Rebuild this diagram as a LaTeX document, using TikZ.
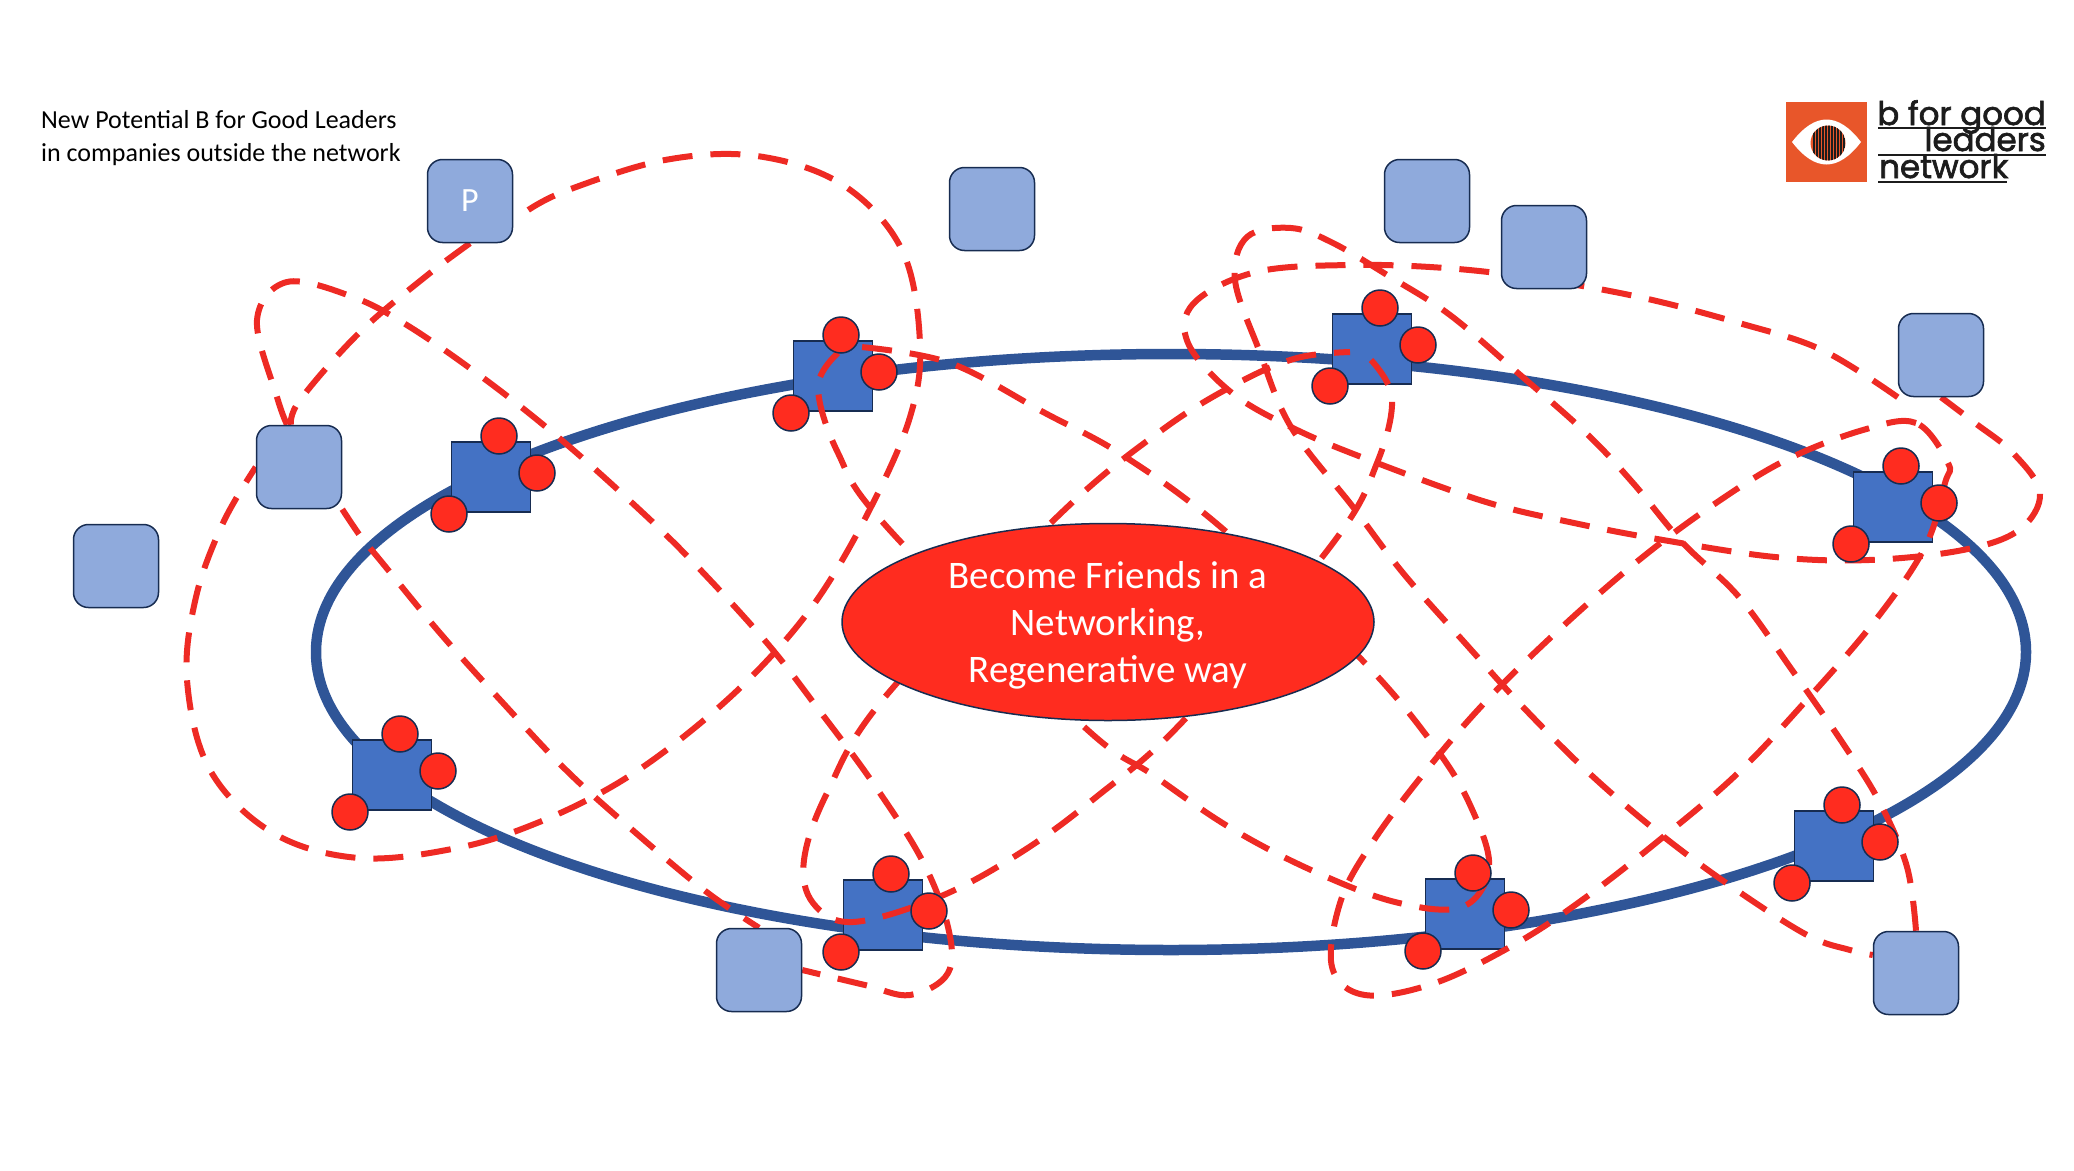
\documentclass[tikz,border=0pt]{standalone}
\usepackage{xcolor}
\usepackage{fontspec}
\usepackage{tikz}
\usetikzlibrary{positioning,calc,shapes.geometric,backgrounds}
\setmainfont{Carlito}
\newfontfamily\logofont[FakeBold=2]{Poppins}
\definecolor{trackblue}{HTML}{2F5597}
\definecolor{hubblue}{HTML}{4472C4}
\definecolor{peerblue}{HTML}{8FAADC}
\definecolor{edgenavy}{HTML}{172C51}
\definecolor{linkred}{HTML}{EE2A24}
\definecolor{dotred}{HTML}{FF2C1F}
\definecolor{logoorange}{HTML}{E8562A}
\definecolor{logoink}{HTML}{1C1C1C}
\tikzset{
  track/.style={ellipse, draw=trackblue, line width=10.5pt, minimum width=1710pt, minimum height=596pt, inner sep=0pt},
  hub/.style={rectangle, draw=edgenavy, fill=hubblue, line width=1.5pt, minimum width=79pt, minimum height=70pt, inner sep=0pt},
  dot/.style={circle, draw=edgenavy, fill=dotred, line width=1.5pt, minimum size=36pt, inner sep=0pt},
  peer/.style={rectangle, rounded corners=15pt, draw=edgenavy, fill=peerblue, line width=1.5pt, minimum width=85pt, minimum height=83pt, inner sep=0pt, text=white, font=\fontsize{34}{38}\selectfont},
  focus/.style={ellipse, draw=edgenavy, fill=dotred, line width=1.5pt, minimum width=532pt, minimum height=197pt, inner sep=0pt},
  focustext/.style={inner sep=0pt, text=white, align=center, font=\fontsize{39}{47}\selectfont},
  link/.style={linkred, line width=6pt, dash pattern=on 30pt off 18pt},
  logotext/.style={inner sep=0pt, text=logoink, font=\logofont\fontsize{32.5}{32}\selectfont}
}

\begin{document}
\begin{tikzpicture}[x=1pt,y=-1pt]
  \useasboundingbox (0,0) rectangle (2074,1170);
  \begin{scope}[on background layer]
    \node[track] (ring) at (1171,652) {};
    \foreach \n/\x/\y in {a/491/477,b/833/376,c/1372/349,d/1893/507,e/392/775,f/883/915,g/1465/914,h/1834/846}
      \node[hub] (hub\n) at (\x,\y) {};
  \end{scope}
  \foreach \n in {a,b,c,d,e,f,g,h} {
    \node[dot] (dot\n1) at ([shift={(8,-41)}]hub\n.center) {};
    \node[dot] (dot\n2) at ([shift={(46,-4)}]hub\n.center) {};
    \node[dot] (dot\n3) at ([shift={(-42,37)}]hub\n.center) {};
  }
  \node[peer] (peerp) at (470,201) {P};
  \foreach \n/\x/\y in {q/992/209,r/1427/201,s/1544/247,t/1941/355,u/299/467,v/116/566,w/759/970,z/1916/973}
    \node[peer] (peer\n) at (\x,\y) {};
  \node[focus] (goal) at (1108,622) {};
  \node[focustext] (goaltext) at (1108,625) {Become Friends in a\\Networking,\\Regenerative way};
  \node[anchor=west, align=left, inner sep=0pt, font=\fontsize{26}{33}\selectfont] (note) at (41,138) {New Potential B for Good Leaders\\in companies outside the network};

  % dashed links
  \begin{scope}[on background layer]
    \draw[link] plot[smooth, tension=0.6] coordinates {([shift={(15,9)}]peerp.east) (568,190) (665,160) (757,156) (843,185) (902,250) (920,343) (910,417) (871,507) (819,597) (761,667) (692,730) (618,783) (537,823) (457,848) (359,858) (273,833) (210,770) (187,680) (196,597) (223,523) (peeru.west)};
    \draw[link] plot[smooth, tension=0.6] coordinates {([shift={(-12,0)}]peeru.north) (277,397) (257,320) (287,282) (353,297) (410,327) (486,380) (558,437) (629,500) (691,560) (767,643) (819,710) (873,783) (922,860) (948,927) (948,973) (910,995) (865,985) (peerw.east)};
    \draw[link] plot[smooth, tension=0.6] coordinates {(peerp.south) (425,277) (359,333) (300,400) ([shift={(-8,0)}]peeru.north)};
    \draw[link] plot[smooth, tension=0.6] coordinates {(peeru.south east) (361,537) (380,560) (440,633) (503,703) (566,770) (629,827) (704,890) (peerw.north)};
    \draw[link] plot[smooth, tension=0.6] coordinates {(838,353) (818,387) (838,453) (887,527) (1080,723) (1153,775) (1229,827) (1311,870) (1395,902) (1462,907) (1489,867) (1471,807) (1435,747) (1362,660) (1223,529) (1124,456) (1045,413) (950,363) (861,347)};
    \draw[link] plot[smooth, tension=0.6] coordinates {(1371,360) (1392,398) (1377,463) (1333,543) (1186,718) (1095,798) (1020,853) (939,897) (853,922) (813,903) (804,860) (827,793) (885,697) (1058,516) (1162,430) (1238,383) (1297,358) (1350,352)};
    \draw[link] plot[smooth, tension=0.6] coordinates {(peert.south west) (1822,350) (1739,323) (1639,297) (1533,278) (1445,268) (1350,265) (1256,272) (1194,303) (1188,343) (1232,393) (1297,430) (1377,463) (1486,502) (1574,523) (1663,540) (1775,557) (1869,560) (1963,550) (2019,530) (2040,493) (2013,453) (1975,423) (peert.south)};
    \draw[link] plot[smooth, tension=0.6] coordinates {(peerz.north) (1907,867) (1880,803) (1844,745) (1792,670) (1739,597) (1683,543) (1633,483) (1586,433) (1518,373) (1450,315) (1392,278) (1333,243) (1291,228) (1247,237) (1235,280) (1259,350) (1291,427) (1353,507) (1403,573) (1465,643) (1523,707) (1589,773) (1659,833) (1732,887) (1807,935) (1850,950) ([shift={(0,-18)}]peerz.west)};
    \draw[link] plot[smooth cycle, tension=0.6] coordinates {(1948,463) (1916,423) (1863,430) (1786,460) (1713,505) (1639,560) (1562,627) (1489,698) (1429,767) (1374,840) (1341,900) (1332,967) (1365,995) (1435,983) (1517,943) (1589,895) (1668,833) (1738,773) (1804,703) (1874,622) (1925,547) (1945,483)};
  \end{scope}

  % logo
  \fill[logoorange] (1786,102) rectangle (1867,182);
  \fill[white] (1792,142) .. controls (1815,112) and (1838,112) .. (1861,142) .. controls (1838,172) and (1815,172) .. (1792,142);
  \begin{scope}
    \clip (1828,143) circle (17.5);
    \fill[logoorange] (1810,125) rectangle (1846,161);
    \foreach \x in {1814,1817,...,1844}
      \draw[logoink, line width=1.4pt] (\x,125) -- (\x,161);
  \end{scope}
  \node[logotext, anchor=base east] (logoa) at (2046,125) {b for good};
  \node[logotext, anchor=base east] (logob) at (2046,151) {leaders};
  \node[logotext, anchor=base west] (logoc) at (1879,178) {network};
  \draw[logoink, line width=1.7pt] (1878,128) -- (2046,128);
  \draw[logoink, line width=1.7pt] (1878,155) -- (2046,155);
  \draw[logoink, line width=1.7pt] (1878,182) -- (2007,182);
\end{tikzpicture}
\end{document}
